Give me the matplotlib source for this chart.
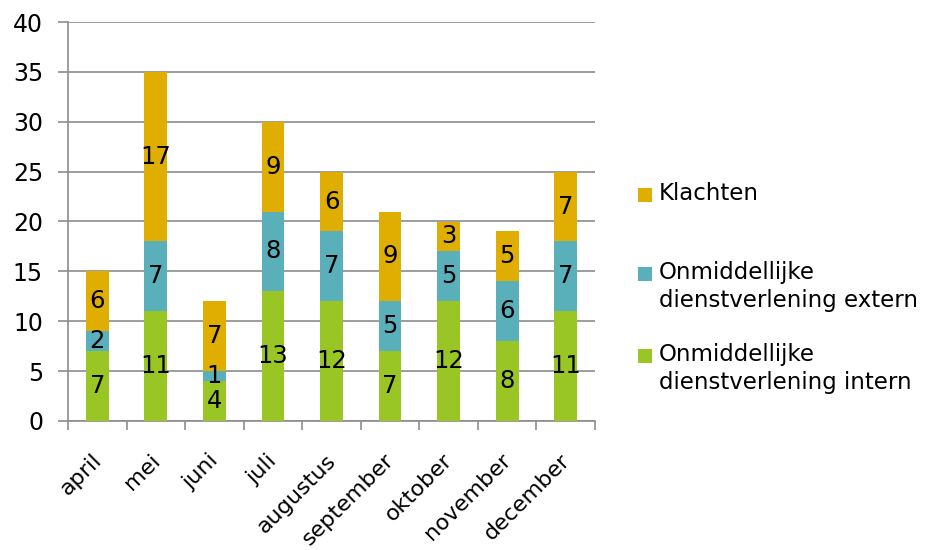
import matplotlib
matplotlib.use("Agg")
import matplotlib.pyplot as plt
import matplotlib.transforms as mtransforms
import numpy as np
from matplotlib.patches import Rectangle

categories = ["april", "mei", "juni", "juli", "augustus", "september", "oktober", "november", "december"]
intern = [7, 11, 4, 13, 12, 7, 12, 8, 11]
extern = [2, 7, 1, 8, 7, 5, 5, 6, 7]
klachten = [6, 17, 7, 9, 6, 9, 3, 5, 7]

series_names = ["Onmiddellijke\ndienstverlening intern",
                "Onmiddellijke\ndienstverlening extern",
                "Klachten"]
colors = ["#99C624", "#5AB0BA", "#DFAE00"]

plt.rcParams['font.family'] = ['DejaVu Sans']
W, H = 930, 550
fig = plt.figure(figsize=(9.3, 5.5), dpi=100)
ax = fig.add_axes([68 / W, 1 - 421 / H, (595 - 68) / W, (421 - 22) / H])

x = np.arange(len(categories))
bottom = np.zeros(len(categories))
fs = 17
for vals, c in zip([intern, extern, klachten], colors):
    vals = np.array(vals, dtype=float)
    ax.bar(x, vals, width=0.39, bottom=bottom, color=c, zorder=3)
    for xi, b, v in zip(x, bottom, vals):
        ax.text(xi, b + v / 2, f"{int(v)}", ha="center", va="center", fontsize=17.5, zorder=4)
    bottom += vals

ax.set_xlim(-0.5, len(categories) - 0.5)
ax.set_ylim(0, 40)
ax.set_yticks(np.arange(0, 41, 5))
ax.tick_params(axis="y", labelsize=fs, length=7, width=1.2, color="#8C8C8C", pad=11)
ax.yaxis.grid(True, color="#8C8C8C", linewidth=1.2, zorder=0)
ax.set_axisbelow(True)

ax.set_xticks(x)
ax.set_xticklabels(categories, rotation=45, ha="right", va="top", rotation_mode="anchor", fontsize=16)
ax.tick_params(axis="x", length=0, pad=21)
offset = mtransforms.ScaledTranslation(-6 / 100, 0, fig.dpi_scale_trans)
for lbl in ax.get_xticklabels():
    lbl.set_transform(lbl.get_transform() + offset)
ax.set_xticks(np.arange(-0.5, len(categories), 1), minor=True)
ax.tick_params(axis="x", which="minor", length=6.5, width=1.2, color="#8C8C8C")

for s in ["top", "right"]:
    ax.spines[s].set_visible(False)
for s in ["left", "bottom"]:
    ax.spines[s].set_color("#8C8C8C")
    ax.spines[s].set_linewidth(1.2)

# legend (reverse order, handle aligned with first text line)
leg_items = [(series_names[2], colors[2], 195),
             (series_names[1], colors[1], 274),
             (series_names[0], colors[0], 356)]
for name, c, yc in leg_items:
    fig.patches.append(Rectangle((638 / W, 1 - (yc + 7) / H), 14 / W, 14 / H,
                                 transform=fig.transFigure, facecolor=c, edgecolor="none"))
    fig.text(659 / W, 1 - (yc - 13) / H, name, ha="left", va="top", fontsize=16.5,
             linespacing=1.25)

fig.savefig("out.png", dpi=100)
